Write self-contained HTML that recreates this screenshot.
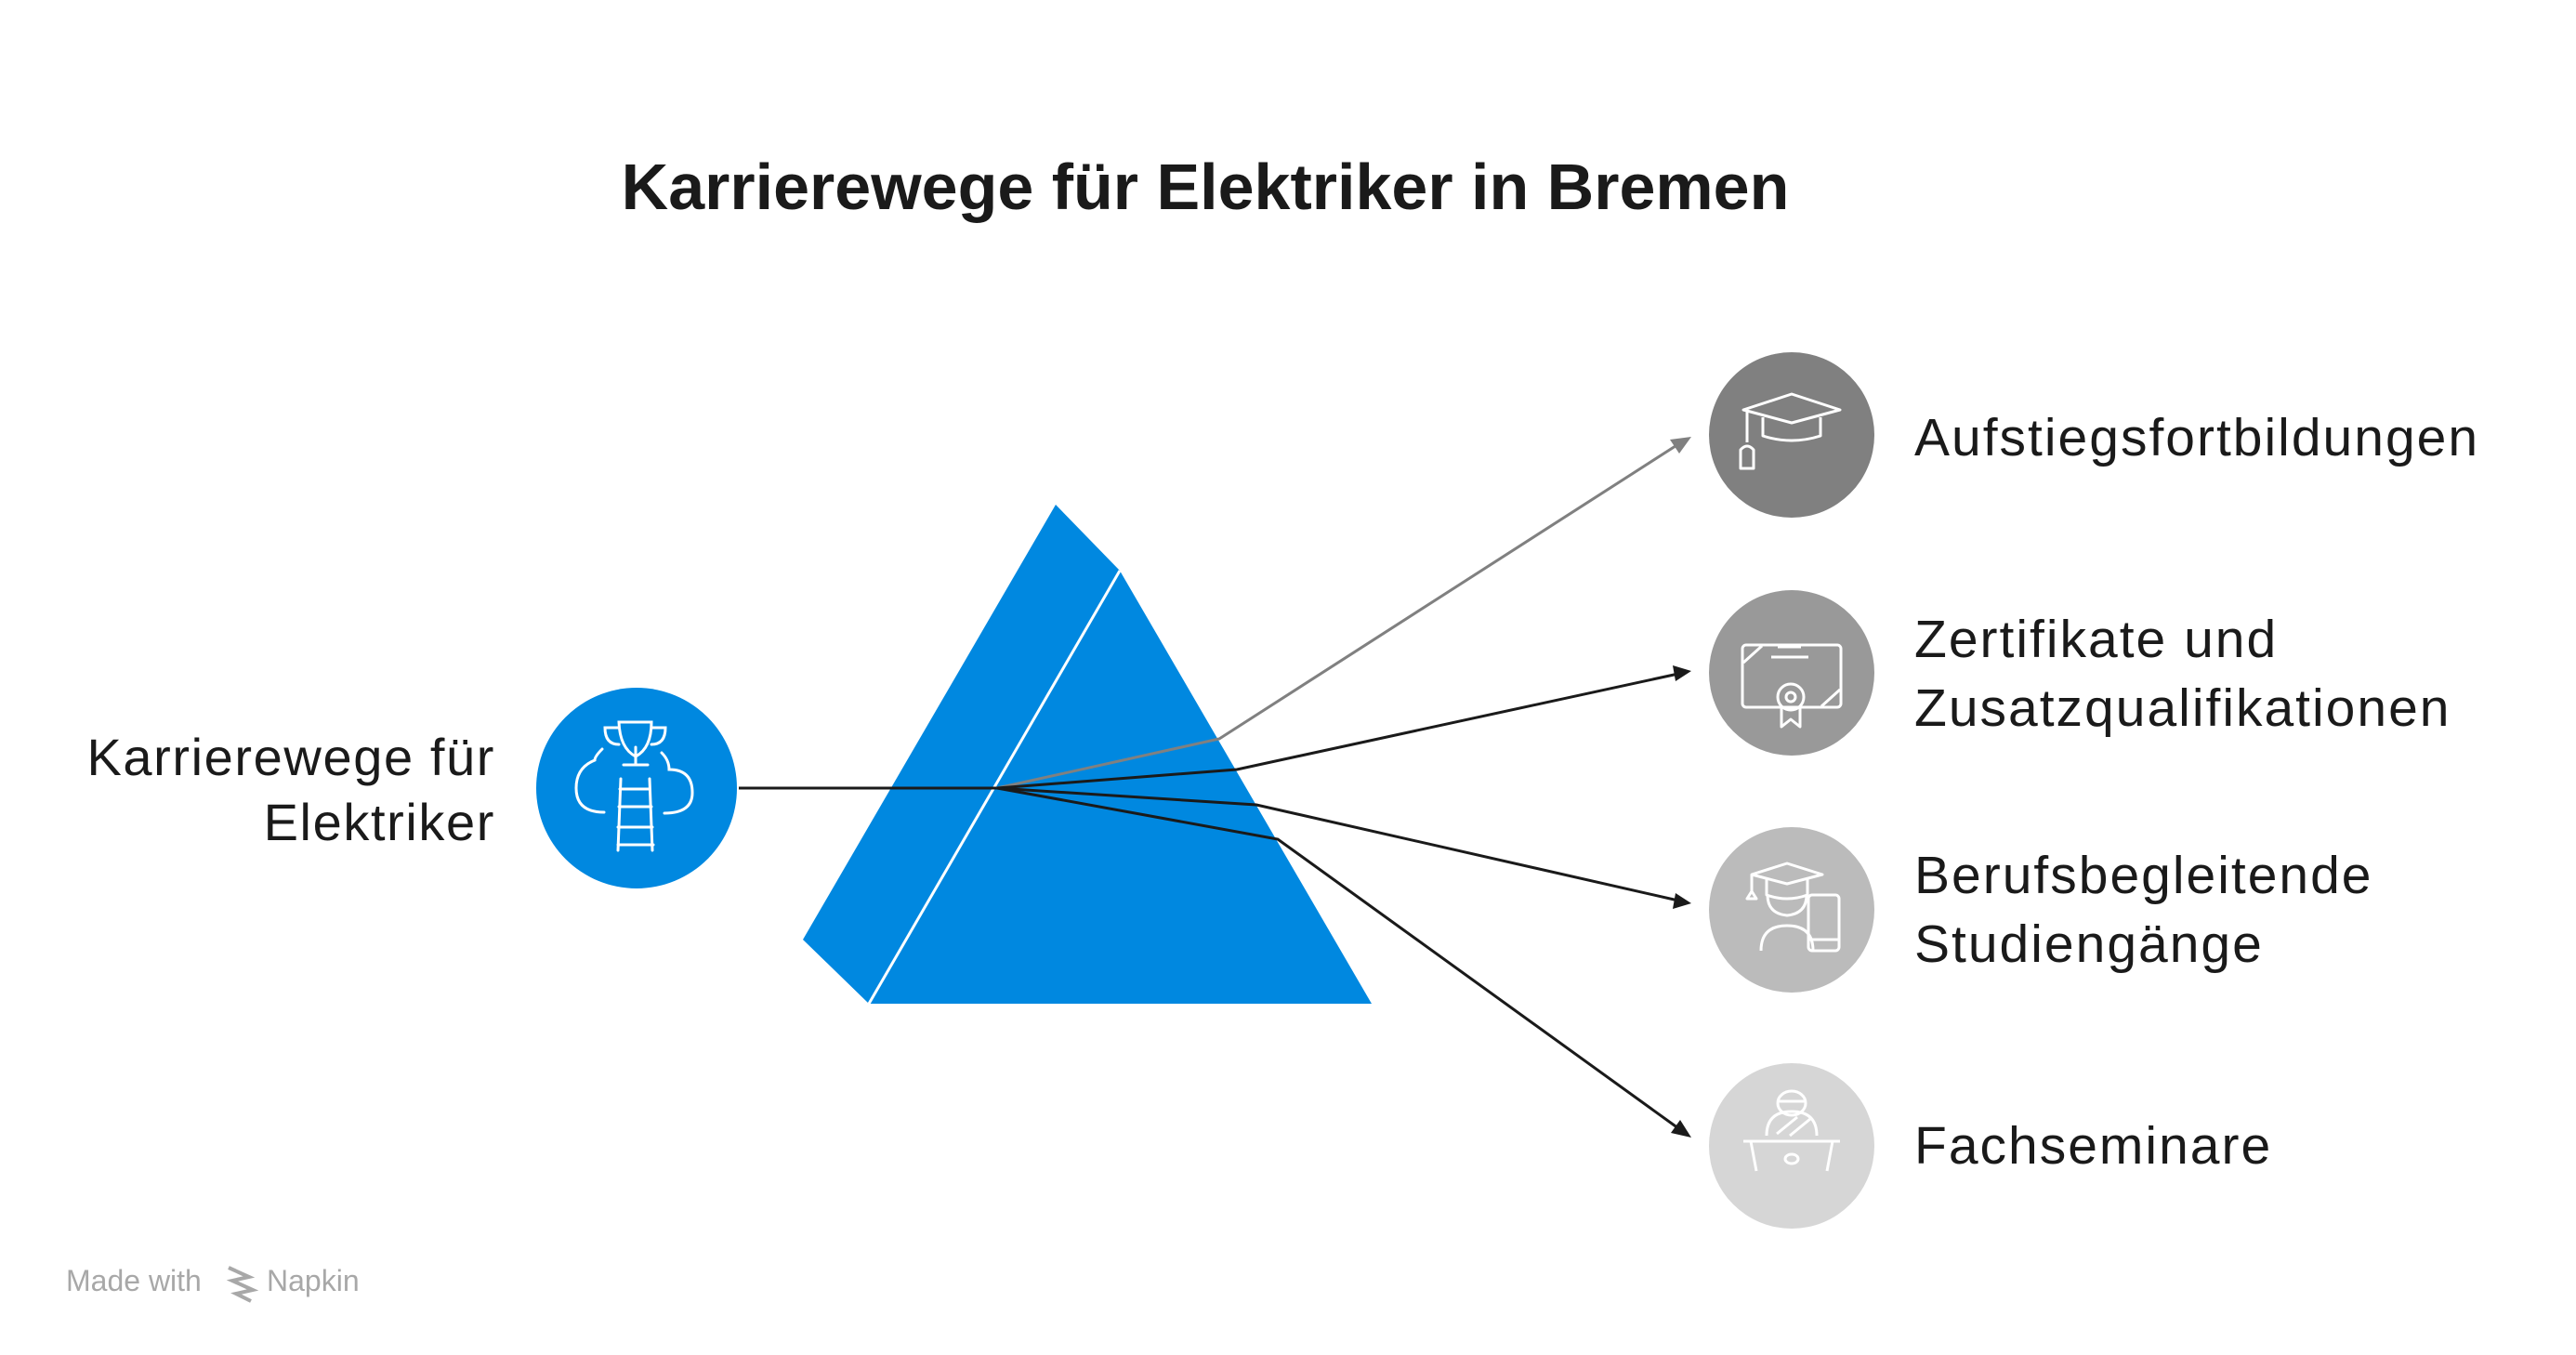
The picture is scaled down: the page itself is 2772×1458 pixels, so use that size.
<!DOCTYPE html>
<html><head><meta charset="utf-8"><style>
html,body{margin:0;padding:0;background:#fff;}
body{width:2772px;height:1458px;overflow:hidden;position:relative;font-family:"Liberation Sans",sans-serif;}
svg{position:absolute;left:0;top:0;}
</style></head><body>
<svg width="2772" height="1458" viewBox="0 0 2772 1458" xmlns="http://www.w3.org/2000/svg">
<text x="1297" y="225" text-anchor="middle" font-family="Liberation Sans, sans-serif" font-weight="bold" font-size="70" fill="#1a1a1a">Karrierewege für Elektriker in Bremen</text>

<!-- prism -->
<polygon points="1136,543 1205,614 935,1080 864,1011" fill="#0088e0"/>
<polygon points="1205,614 935,1080 1476,1080" fill="#0088e0"/>
<line x1="1205" y1="614" x2="935" y2="1080" stroke="#fff" stroke-width="3"/>

<!-- lines -->
<polyline points="795,848 1073,848" fill="none" stroke="#1a1a1a" stroke-width="3"/>
<polyline points="1073,848 1312,795 1806,478" fill="none" stroke="#808080" stroke-width="3"/>
<polygon points="1820,470 1797,473 1807,488" fill="#808080"/>
<polyline points="1073,848 1331,828 1806,725" fill="none" stroke="#1a1a1a" stroke-width="3"/>
<polygon points="1820,722 1800,716 1803,733" fill="#1a1a1a"/>
<polyline points="1073,848 1352,866 1806,969" fill="none" stroke="#1a1a1a" stroke-width="3"/>
<polygon points="1820,972 1803,961 1800,978" fill="#1a1a1a"/>
<polyline points="1073,848 1375,903 1806,1214" fill="none" stroke="#1a1a1a" stroke-width="3"/>
<polygon points="1820,1224 1808,1205 1798,1219" fill="#1a1a1a"/>

<!-- left circle -->
<circle cx="685" cy="848" r="108" fill="#0088e0"/>
<g fill="none" stroke="#fff" stroke-width="3" stroke-linecap="round">
<path d="M666,777 h35 q0,28 -17,37 q-17,-9 -18,-37 z"/>
<path d="M666,783 h-15 q0,18 15,18 M701,783 h15 q0,18 -15,18"/>
<line x1="684" y1="804" x2="684" y2="823"/><line x1="671" y1="823" x2="697" y2="823"/>
<path d="M648,806 q-8,8 -8,12 q-20,8 -20,30 q0,26 30,26"/>
<path d="M712,810 q8,8 8,18 q25,0 25,25 q0,22 -30,22"/>
<path d="M668,838 l-3,77 M699,838 l3,77 M667,849 h32 M666,868 h35 M665,890 h37 M665,909 h38"/>
</g>
<text font-family="Liberation Sans, sans-serif" font-size="56" letter-spacing="1.6" fill="#1a1a1a" text-anchor="end"><tspan x="533" y="834">Karrierewege für</tspan><tspan x="533" y="904">Elektriker</tspan></text>

<!-- right circles -->
<circle cx="1928" cy="468" r="89" fill="#808080"/>
<circle cx="1928" cy="724" r="89" fill="#999999"/>
<circle cx="1928" cy="979" r="89" fill="#bbbbbb"/>
<circle cx="1928" cy="1233" r="89" fill="#d6d6d6"/>
<g fill="none" stroke="#fff" stroke-width="3" stroke-linejoin="round">
<path d="M1876,441 l52,-17 l52,17 l-52,14 z"/>
<path d="M1897,449 v20 q31,10 62,0 v-20"/>
<path d="M1880,443 v33"/><path d="M1873,504 v-20 q7,-8 14,0 v20 z"/>
<rect x="1875" y="694" width="106" height="67" rx="4"/>
<path d="M1876,713 l20,-18 M1960,760 l20,-18 M1906,707 h40 M1913,696 h25"/>
<circle cx="1927" cy="750" r="14"/><circle cx="1927" cy="750" r="5"/>
<path d="M1917,760 v22 l10,-8 l10,8 v-22"/>
<path d="M1885,941 l38,-12 l38,12 l-38,10 z M1901,946 v17 q22,8 44,0 v-17 M1885,941 v18 l-5,8 h10 l-5,-8"/>
<path d="M1902,963 q0,20 21,22 q21,-2 21,-22"/>
<path d="M1895,1023 q0,-27 28,-27 q28,0 28,27"/>
<rect x="1946" y="963" width="33" height="60" rx="4"/><line x1="1946" y1="1011" x2="1979" y2="1011"/>
<ellipse cx="1928" cy="1187" rx="15" ry="13"/><line x1="1913" y1="1185" x2="1943" y2="1185"/>
<path d="M1901,1222 q0,-26 27,-26 q27,0 27,26 M1912,1220 l22,-18 M1926,1222 l22,-18"/>
<path d="M1876,1228 h104 M1884,1228 l6,32 M1972,1228 l-6,32"/>
<ellipse cx="1928" cy="1247" rx="7" ry="5"/>
</g>
<g font-family="Liberation Sans, sans-serif" font-size="57" letter-spacing="2" fill="#1a1a1a">
<text x="2060" y="490">Aufstiegsfortbildungen</text>
<text x="2060" y="707">Zertifikate und</text>
<text x="2060" y="781">Zusatzqualifikationen</text>
<text x="2060" y="961">Berufsbegleitende</text>
<text x="2060" y="1035">Studiengänge</text>
<text x="2060" y="1252">Fachseminare</text>
</g>
<text x="71" y="1389" font-family="Liberation Sans, sans-serif" font-size="32" fill="#a8a8a8">Made with</text>
<path d="M246,1364 l22,10 l-18,4 l22,10 l-18,4 l16,8" fill="none" stroke="#a8a8a8" stroke-width="4"/>
<text x="287" y="1389" font-family="Liberation Sans, sans-serif" font-size="32" fill="#a8a8a8">Napkin</text>
</svg>
</body></html>
